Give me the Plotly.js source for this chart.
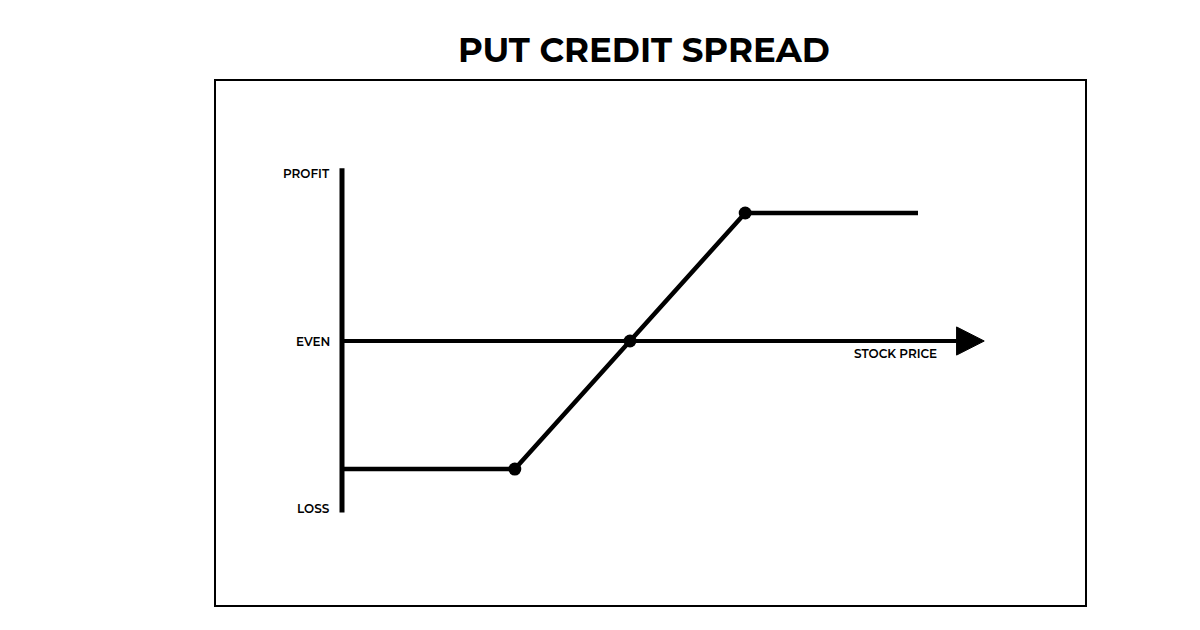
<!DOCTYPE html>
<html>
<head>
<meta charset="utf-8">
<script src="https://cdn.plot.ly/plotly-3.0.1.min.js"></script>
<style>html,body{margin:0;padding:0;background:#fff;}#chart{width:1200px;height:630px;}</style>
</head>
<body>
<div id="chart"></div>
<script>
// Payoff diagram data (stock price in arbitrary units, P/L normalised)
const stockPrice = [0, 30, 50, 70, 100];
const profitLoss = [-1, -1, 0, 1, 1];
const keyPriceX = [30, 50, 70];
const keyPriceY = [-1, 0, 1];
const yLabels = ["PROFIT", "EVEN", "LOSS"];
const yLabelValues = [1.31, 0, -1.31];
const xAxisLabel = "STOCK PRICE";
const chartTitle = "PUT CREDIT SPREAD";

const xRange = [-22.05, 129.17];
const yRange = [-2.07, 2.039];
const axisTop = 1.35, axisBottom = -1.34;
const arrowStart = 106.7, arrowTip = 111.5, arrowHalf = 0.11;

const font = "Montserrat, 'Open Sans', sans-serif";

const traces = [
  {x: stockPrice, y: profitLoss, mode: "lines", line: {color: "#000", width: 4.5}, hoverinfo: "skip"},
  {x: keyPriceX, y: keyPriceY, mode: "markers", marker: {color: "#000", size: 13}, hoverinfo: "skip"}
];

const shapes = [
  {type: "rect", xref: "paper", yref: "paper", x0: 0, x1: 1, y0: 0, y1: 1, line: {color: "#000", width: 2}},
  {type: "line", xref: "x", yref: "y", x0: 0, x1: 0, y0: axisBottom, y1: axisTop, line: {color: "#000", width: 5}, layer: "below"},
  {type: "line", xref: "x", yref: "y", x0: 0, x1: arrowStart, y0: 0, y1: 0, line: {color: "#000", width: 4}, layer: "below"},
  {type: "path", xref: "x", yref: "y",
   path: `M ${arrowStart} ${arrowHalf} L ${arrowTip} 0 L ${arrowStart} ${-arrowHalf} Z`,
   fillcolor: "#000", line: {color: "#000", width: 1}}
];

const labelFont = {family: font, size: 12, color: "#000", weight: 600};
const annotations = yLabels.map((t, i) => ({
  x: -1.8, y: yLabelValues[i], xref: "x", yref: "y", text: t, showarrow: false,
  xanchor: "right", yanchor: "middle", font: labelFont
}));
annotations.push({x: 96.1, y: -0.1, xref: "x", yref: "y", text: xAxisLabel, showarrow: false,
  xanchor: "center", yanchor: "middle", font: labelFont});
annotations.push({x: 0.4925, y: 1, xref: "paper", yref: "paper", yshift: 30, text: chartTitle,
  showarrow: false, xanchor: "center", yanchor: "middle", font: {family: font, size: 34, color: "#000", weight: 700}});

const layout = {
  width: 1200, height: 630,
  margin: {l: 215, r: 114, t: 80, b: 24, pad: 0},
  paper_bgcolor: "#fff", plot_bgcolor: "#fff",
  showlegend: false,
  xaxis: {range: xRange, visible: false, fixedrange: true},
  yaxis: {range: yRange, visible: false, fixedrange: true},
  shapes: shapes,
  annotations: annotations
};

Plotly.newPlot("chart", traces, layout, {staticPlot: true, displayModeBar: false});
</script>
</body>
</html>
